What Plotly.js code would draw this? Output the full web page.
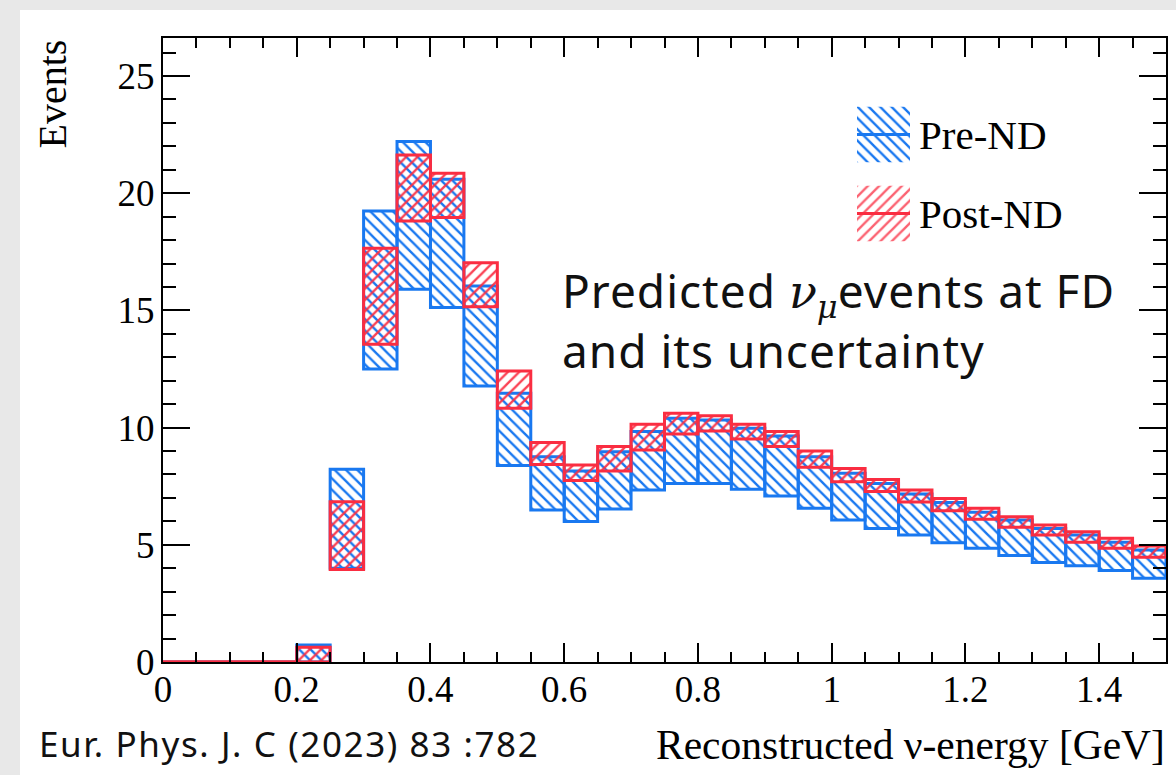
<!DOCTYPE html>
<html>
<head>
<meta charset="utf-8">
<script src="https://cdn.plot.ly/plotly-3.0.1.min.js"></script>
<style>
  html, body { margin:0; padding:0; background:#e8e8e8; width:1176px; height:775px; overflow:hidden; }
  #plot { position:absolute; left:20px; top:10px; width:1156px; height:765px; background:#fff; }
</style>
</head>
<body>
<div id="plot"></div>
<script>
// Bin edges of reconstructed neutrino energy [GeV]
const binEdges = [0, 0.05, 0.1, 0.15, 0.2, 0.25, 0.3, 0.35, 0.4, 0.45, 0.5, 0.55, 0.6, 0.65, 0.7, 0.75,
                  0.8, 0.85, 0.9, 0.95, 1.0, 1.05, 1.1, 1.15, 1.2, 1.25, 1.3, 1.35, 1.4, 1.45, 1.5];
// Pre-ND uncertainty band (lower / upper)
const preLo  = [0, 0, 0, 0, 0, 4.0, 12.5, 15.9, 15.12, 11.77, 8.38, 6.48, 5.99, 6.53, 7.34, 7.62,
                7.62, 7.37, 7.08, 6.56, 6.06, 5.70, 5.42, 5.09, 4.85, 4.54, 4.25, 4.11, 3.90, 3.57];
const preHi  = [0, 0, 0, 0, 0.72, 8.22, 19.24, 22.2, 20.59, 16.04, 11.46, 8.76, 8.15, 8.97, 9.83, 10.40,
                10.32, 9.97, 9.64, 8.76, 8.05, 7.62, 7.17, 6.80, 6.39, 6.06, 5.70, 5.42, 5.11, 4.78];
// Post-ND uncertainty band (lower / upper)
const postLo = [0, 0, 0, 0, 0, 3.95, 13.55, 18.81, 18.96, 15.16, 10.82, 8.43, 7.74, 8.15, 9.04, 9.73,
                9.85, 9.51, 9.19, 8.31, 7.69, 7.27, 6.83, 6.45, 6.09, 5.75, 5.42, 5.11, 4.85, 4.47];
const postHi = [0, 0, 0, 0, 0.63, 6.84, 17.65, 21.63, 20.85, 17.03, 12.41, 9.36, 8.40, 9.19, 10.14, 10.61,
                10.51, 10.14, 9.83, 9.00, 8.26, 7.79, 7.34, 6.98, 6.56, 6.20, 5.84, 5.56, 5.28, 4.95];
const seriesNames = ['Pre-ND', 'Post-ND'];

const BLUE = 'rgb(25,120,240)';
const RED = 'rgb(250,45,65)';
const SERIF = 'Liberation Serif, Times New Roman, serif';
const SANS = 'Noto Sans, Noto Sans CJK JP, sans-serif';

const centers = [], widths = [];
for (let i = 0; i < binEdges.length - 1; i++) {
  centers.push((binEdges[i] + binEdges[i + 1]) / 2);
  widths.push(binEdges[i + 1] - binEdges[i]);
}
const diff = (hi, lo) => hi.map((v, i) => v - lo[i]);

function band(lo, hi, color, hatch, fg) {
  return {
    type: 'bar', x: centers, base: lo, y: diff(hi, lo), width: widths,
    marker: {
      color: 'rgba(0,0,0,0)',
      line: { color: color, width: 3 },
      pattern: { shape: hatch, fgcolor: fg, bgcolor: 'rgba(0,0,0,0)', size: 8, solidity: 0.3 }
    },
    showlegend: false, hoverinfo: 'skip', xaxis: 'x', yaxis: 'y'
  };
}

// empty bins of post-ND histogram drawn as line on zero
const zx = [], zy = [];
for (let i = 0; i < postHi.length; i++) {
  if (postHi[i] === 0) { zx.push(binEdges[i], binEdges[i + 1]); zy.push(postHi[i], postHi[i]); }
}

const traces = [
  band(preLo, preHi, BLUE, '\\', BLUE),
  band(postLo, postHi, RED, '/', 'rgba(250,45,65,0.9)'),
  { type: 'scatter', mode: 'lines', x: zx, y: zy, line: { color: RED, width: 3 },
    showlegend: false, hoverinfo: 'skip', cliponaxis: false },
  // legend glyphs on their own small axes
  { type: 'bar', orientation: 'h', y: [seriesNames[0]], x: [1], width: 0.7, xaxis: 'x2', yaxis: 'y2',
    marker: { color: 'rgba(0,0,0,0)', line: { width: 0 },
      pattern: { shape: '\\', fgcolor: BLUE, bgcolor: 'rgba(0,0,0,0)', size: 8, solidity: 0.3 } },
    showlegend: false, hoverinfo: 'skip' },
  { type: 'bar', orientation: 'h', y: [seriesNames[1]], x: [1], width: 0.7, xaxis: 'x2', yaxis: 'y2',
    marker: { color: 'rgba(0,0,0,0)', line: { width: 0 },
      pattern: { shape: '/', fgcolor: 'rgba(250,45,65,0.75)', bgcolor: 'rgba(0,0,0,0)', size: 8, solidity: 0.3 } },
    showlegend: false, hoverinfo: 'skip' },
  { type: 'scatter', mode: 'lines', x: [0, 1], y: [seriesNames[0], seriesNames[0]], xaxis: 'x2', yaxis: 'y2',
    line: { color: BLUE, width: 3 }, showlegend: false, hoverinfo: 'skip' },
  { type: 'scatter', mode: 'lines', x: [0, 1], y: [seriesNames[1], seriesNames[1]], xaxis: 'x2', yaxis: 'y2',
    line: { color: RED, width: 3 }, showlegend: false, hoverinfo: 'skip' }
];

// pixel helpers for annotation placement (plot area: x 163..1166, y 38..662 in window)
const px = (x) => (x - 163) / 1003;
const py = (y) => (662 - y) / 624;

const layout = {
  width: 1156, height: 765,
  margin: { l: 143, r: 10, t: 28, b: 113, pad: 0 },
  paper_bgcolor: '#ffffff', plot_bgcolor: '#ffffff',
  barmode: 'overlay',
  showlegend: false,
  font: { family: SERIF, color: '#000' },
  xaxis: {
    range: [0, 1.5], dtick: 0.2, tick0: 0,
    showline: true, linewidth: 2, linecolor: '#000', mirror: 'allticks',
    ticks: 'inside', ticklen: 19, tickwidth: 2, tickcolor: '#000',
    minor: { dtick: 0.05, ticks: 'inside', ticklen: 10, tickwidth: 2, tickcolor: '#000', showgrid: false },
    showgrid: false, zeroline: false,
    tickfont: { family: SERIF, size: 37, color: '#000' },
    ticklabelstandoff: -6
  },
  yaxis: {
    range: [0, 26.62], dtick: 5, tick0: 0,
    showline: true, linewidth: 2, linecolor: '#000', mirror: 'allticks',
    ticks: 'inside', ticklen: 27, tickwidth: 2, tickcolor: '#000',
    minor: { dtick: 1, ticks: 'inside', ticklen: 13, tickwidth: 2, tickcolor: '#000', showgrid: false },
    showgrid: false, zeroline: false,
    tickfont: { family: SERIF, size: 37, color: '#000' },
    ticklabelstandoff: -1
  },
  xaxis2: {
    domain: [px(857), px(910)], anchor: 'y2', range: [0, 1],
    showgrid: false, zeroline: false, showline: false, showticklabels: false, ticks: ''
  },
  yaxis2: {
    domain: [py(253), py(95)], anchor: 'x2', type: 'category',
    categoryorder: 'array', categoryarray: seriesNames, autorange: 'reversed',
    side: 'right', showgrid: false, zeroline: false, showline: false, ticks: '',
    tickfont: { family: SERIF, size: 41, color: '#000' },
    ticklabelstandoff: 8
  },
  annotations: [
    { xref: 'paper', yref: 'paper', x: px(52), y: py(38), xanchor: 'center', yanchor: 'top',
      text: 'Events', textangle: -90, showarrow: false,
      font: { family: SERIF, size: 40, color: '#000' } },
    { xref: 'paper', yref: 'paper', x: px(1167), y: py(745), xanchor: 'right', yanchor: 'middle',
      text: 'Reconstructed ν-energy [GeV]', showarrow: false,
      font: { family: SERIF, size: 41.5, color: '#000' } },
    { xref: 'paper', yref: 'paper', x: px(560), y: py(320), xanchor: 'left', yanchor: 'middle', align: 'left',
      text: '<span style="letter-spacing:1px">Predicted </span><span style="font-family:DejaVu Serif"><i>ν</i><sub><i>μ</i></sub></span><span style="letter-spacing:1px">events at FD</span><br><span style="letter-spacing:1px">and its uncertainty</span>',
      showarrow: false, font: { family: SANS, size: 46, color: '#111' } },
    { xref: 'paper', yref: 'paper', x: px(37), y: py(743), xanchor: 'left', yanchor: 'middle',
      text: '<span style="letter-spacing:1.6px">Eur. Phys. J. C (2023) 83 :782</span>',
      showarrow: false, font: { family: SANS, size: 35, color: '#111' } }
  ]
};

Plotly.newPlot('plot', traces, layout, { displayModeBar: false, staticPlot: true });
</script>
</body>
</html>
